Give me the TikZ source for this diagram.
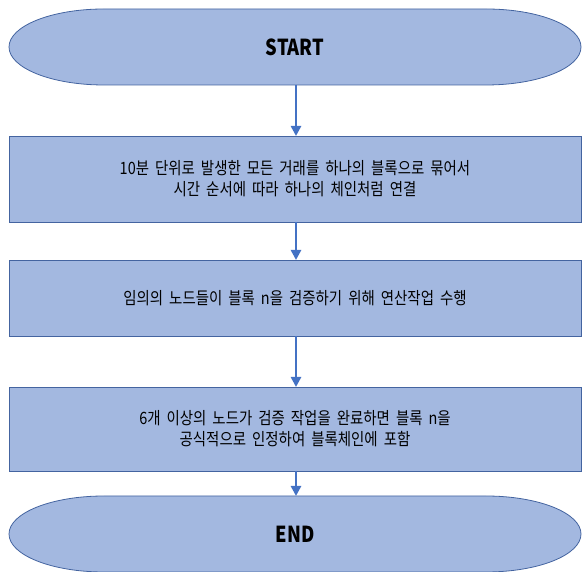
\documentclass[tikz,border=0pt]{standalone}
\usepackage{fontspec}
\newfontfamily\kr[FakeStretch=0.85]{Noto Sans CJK KR}
\newfontfamily\termfont[FakeStretch=0.83]{Noto Sans CJK KR}
\usetikzlibrary{arrows.meta,backgrounds}
\definecolor{boxfill}{RGB}{163,184,224}
\definecolor{boxline}{RGB}{68,100,160}
\definecolor{arrowblue}{RGB}{68,114,196}
\newcommand{\krtext}{\kr\fontsize{17bp}{21bp}\selectfont\spaceskip=6bp plus 1bp minus 1bp\relax}
\tikzset{
  stepbox/.style={draw=boxline, fill=boxfill, line width=0.8bp, inner sep=0pt, outer sep=0pt,
    minimum width=572bp, align=center, font=\krtext},
  termbox/.style={draw=none, inner sep=0pt, outer sep=0pt, minimum width=572bp, minimum height=76bp,
    font=\termfont\bfseries\fontsize{22bp}{26bp}\selectfont},
  termshape/.style={draw=boxline, fill=boxfill, line width=0.8bp},
  flow/.style={draw=arrowblue, line width=2.6bp, -{Triangle[length=10bp,width=10bp]}},
}
\begin{document}
\begin{tikzpicture}[x=1bp,y=1bp]
\useasboundingbox (0,0) rectangle (582,572);
\node[termbox] (start) at (295,525) {START};
\node[stepbox, minimum height=86bp] (b1) at (295,393) {10분 단위로 발생한 모든 거래를 하나의 블록으로 묶어서\\시간 순서에 따라 하나의 체인처럼 연결};
\node[stepbox, minimum height=76bp] (b2) at (295,274) {임의의 노드들이 블록 n을 검증하기 위해 연산작업 수행};
\node[stepbox, minimum height=84bp] (b3) at (295,143) {6개 이상의 노드가 검증 작업을 완료하면 블록 n을\\공식적으로 인정하여 블록체인에 포함};
\node[termbox] (end) at (295,38) {END};
\begin{scope}[on background layer]
\foreach \t in {start,end}{
  \draw[termshape] ([xshift=95bp]\t.north west) -- ([xshift=-95bp]\t.north east)
    arc[start angle=90,end angle=-90,x radius=95bp,y radius=38bp]
    -- ([xshift=95bp]\t.south west)
    arc[start angle=270,end angle=90,x radius=95bp,y radius=38bp] -- cycle;
}
\end{scope}
\draw[flow] ([xshift=1bp]start.south) -- ([xshift=1bp]b1.north);
\draw[flow] ([xshift=1bp]b1.south) -- ([xshift=1bp]b2.north);
\draw[flow] ([xshift=1bp]b2.south) -- ([xshift=1bp]b3.north);
\draw[flow] ([xshift=1bp]b3.south) -- ([xshift=1bp]end.north);
\end{tikzpicture}
\end{document}
